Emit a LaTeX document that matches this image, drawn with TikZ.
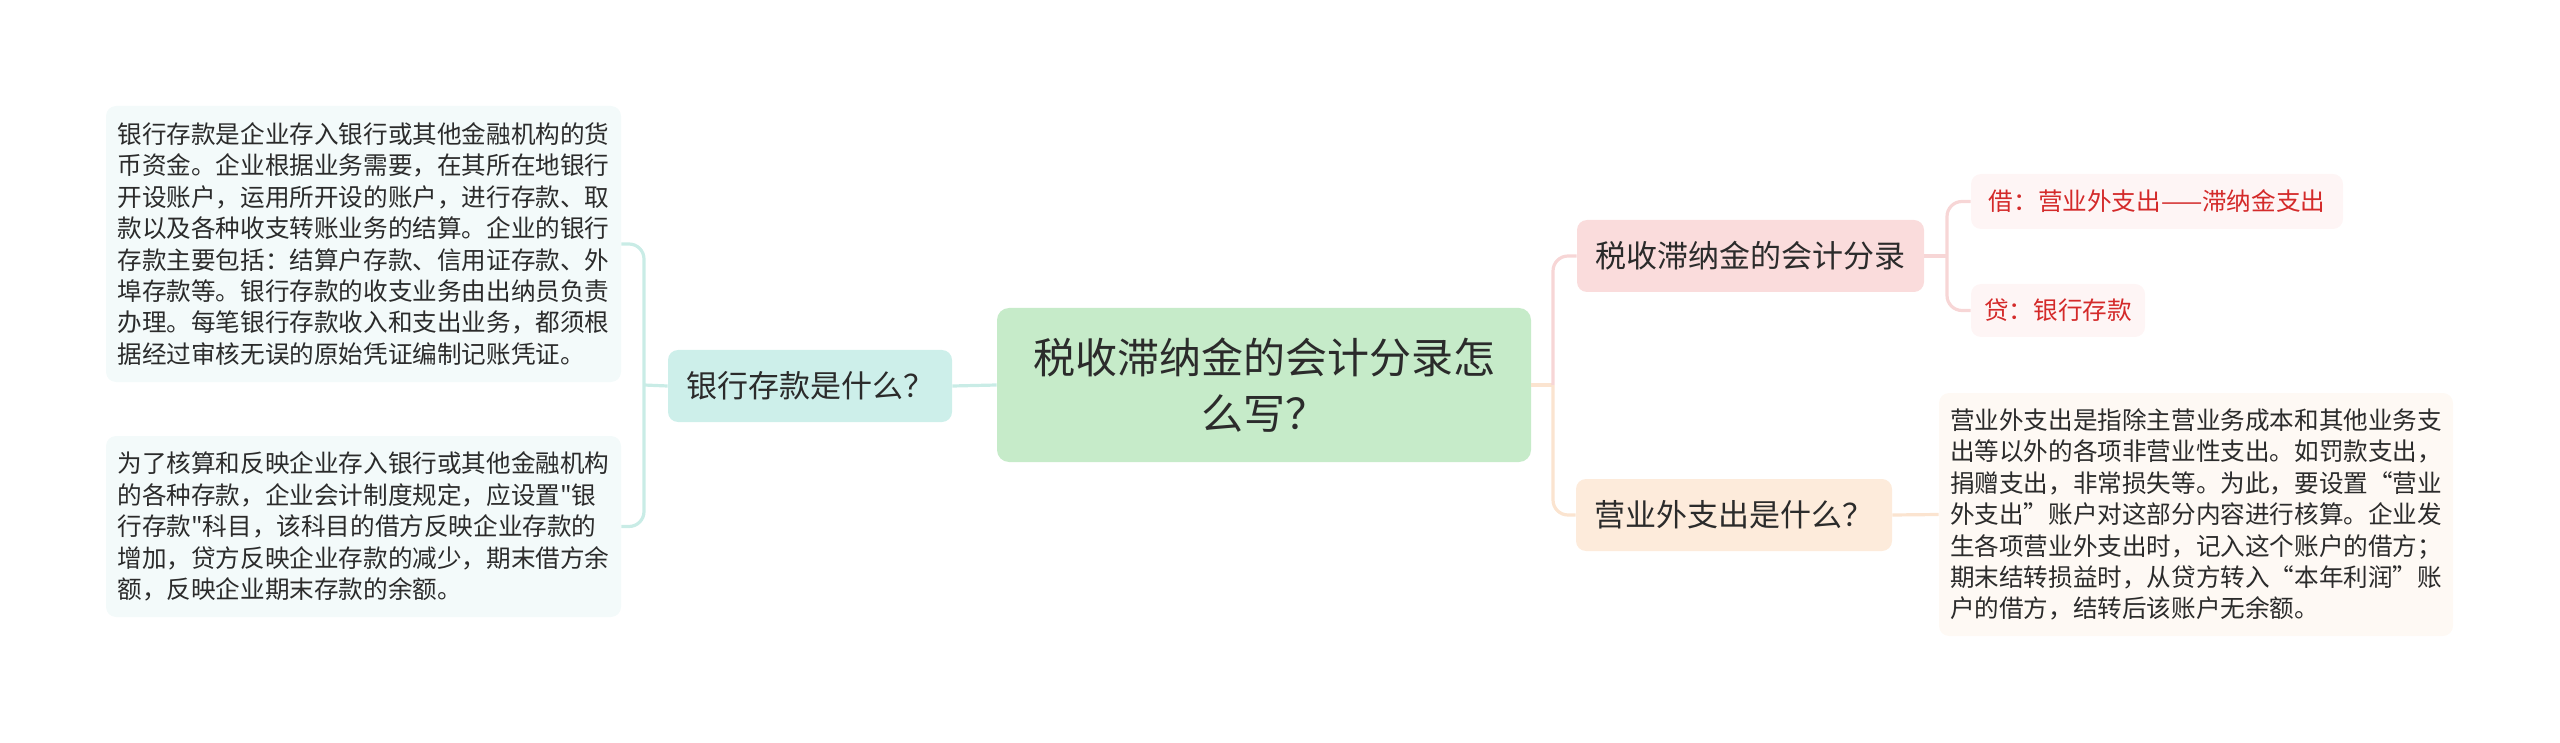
\documentclass[tikz,border=0pt]{standalone}
\usepackage{fontspec}
\setmainfont{Noto Sans CJK SC}
\setmonofont{Noto Sans CJK SC}
\newcommand\stq{{\ttfamily"}}
\definecolor{txt}{HTML}{2B2B2B}
\definecolor{redtxt}{HTML}{D42A2A}
\definecolor{rootfill}{HTML}{C6EBC9}
\definecolor{cyanfill}{HTML}{CDEFEA}
\definecolor{cyanleaf}{HTML}{F3FAFA}
\definecolor{cyanline}{HTML}{C9ECE6}
\definecolor{pinkfill}{HTML}{FADCDC}
\definecolor{pinkleaf}{HTML}{FEF5F5}
\definecolor{pinkline}{HTML}{F7D6D6}
\definecolor{peachfill}{HTML}{FDEBDB}
\definecolor{peachleaf}{HTML}{FEF9F4}
\definecolor{peachline}{HTML}{FBE4D0}
\tikzset{
  rootbox/.style={fill=rootfill, rounded corners=6pt, align=center, text=txt, inner sep=0pt,
    font=\fontsize{21pt}{28pt}\selectfont},
  childbox/.style={rounded corners=5pt, align=center, text=txt, inner sep=0pt,
    font=\fontsize{15.5pt}{19pt}\selectfont},
  leafbox/.style={rounded corners=5pt, align=left, text=txt, inner sep=0pt,
    font=\fontsize{12.3pt}{15.7pt}\selectfont},
  redleaf/.style={rounded corners=5pt, align=left, text=redtxt, inner sep=0pt,
    font=\fontsize{12.3pt}{15.7pt}\selectfont},
  conn/.style={line width=1.6pt, rounded corners=7.5pt},
}
\begin{document}
\begin{tikzpicture}[x=0.5pt,y=-0.5pt]
\useasboundingbox (0,0) rectangle (2560,743);
% root
\node[rootbox, minimum width=267pt, minimum height=77pt] (root) at (1264,385)
  {税收滞纳金的会计分录怎\\么写？};
% left
\node[childbox, fill=cyanfill, minimum width=142pt, minimum height=36pt] (lchild) at (810,386)
  {银行存款是什么？};
\node[leafbox, fill=cyanleaf, minimum width=257.5pt, minimum height=138pt] (leafL1) at (363.5,244)
  {银行存款是企业存入银行或其他金融机构的货\\
   币资金。企业根据业务需要，在其所在地银行\\
   开设账户，运用所开设的账户，进行存款、取\\
   款以及各种收支转账业务的结算。企业的银行\\
   存款主要包括：结算户存款、信用证存款、外\\
   埠存款等。银行存款的收支业务由出纳员负责\\
   办理。每笔银行存款收入和支出业务，都须根\\
   据经过审核无误的原始凭证编制记账凭证。};
\node[leafbox, fill=cyanleaf, minimum width=257.5pt, minimum height=90.5pt] (leafL2) at (363.5,526.5)
  {为了核算和反映企业存入银行或其他金融机构\\
   的各种存款，企业会计制度规定，应设置\stq 银\\
   行存款\stq 科目，该科目的借方反映企业存款的\\
   增加，贷方反映企业存款的减少，期末借方余\\
   额，反映企业期末存款的余额。};
% right
\node[childbox, fill=pinkfill, minimum width=173.5pt, minimum height=36pt] (rchild1) at (1750.5,256)
  {税收滞纳金的会计分录};
\node[redleaf, fill=pinkleaf, minimum width=186pt, minimum height=27.5pt] (leafR1) at (2157,201.5)
  {借：营业外支出——滞纳金支出};
\node[redleaf, fill=pinkleaf, minimum width=87pt, minimum height=26.5pt] (leafR2) at (2058,310.5)
  {贷：银行存款};
\node[childbox, fill=peachfill, minimum width=158pt, minimum height=36pt] (rchild2) at (1734,515)
  {营业外支出是什么？};
\node[leafbox, fill=peachleaf, minimum width=257pt, minimum height=121.5pt] (leafR3) at (2196,514.5)
  {营业外支出是指除主营业务成本和其他业务支\\
   出等以外的各项非营业性支出。如罚款支出，\\
   捐赠支出，非常损失等。为此，要设置“营业\\
   外支出”账户对这部分内容进行核算。企业发\\
   生各项营业外支出时，记入这个账户的借方；\\
   期末结转损益时，从贷方转入“本年利润”账\\
   户的借方，结转后该账户无余额。};
% junctions
\coordinate (jl) at (644,385);
\coordinate (jr) at (1553,385);
\coordinate (jr1) at (1947,256);
% connectors
\draw[conn, cyanline] (lchild.east) -- (root.west);
\draw[conn, cyanline] (lchild.west) -- (jl);
\draw[conn, cyanline] (leafL1.east) -| (jl) |- (leafL2.east);
\draw[conn, peachline] (root.east) -- (jr);
\draw[conn, pinkline] (rchild1.west) -| (jr);
\draw[conn, peachline] (rchild2.west) -| (jr);
\draw[conn, pinkline] (rchild1.east) -- (jr1);
\draw[conn, pinkline] (leafR1.west) -| (jr1) |- (leafR2.west);
\draw[conn, peachline] (rchild2.east) -- (leafR3.west);
\end{tikzpicture}
\end{document}
